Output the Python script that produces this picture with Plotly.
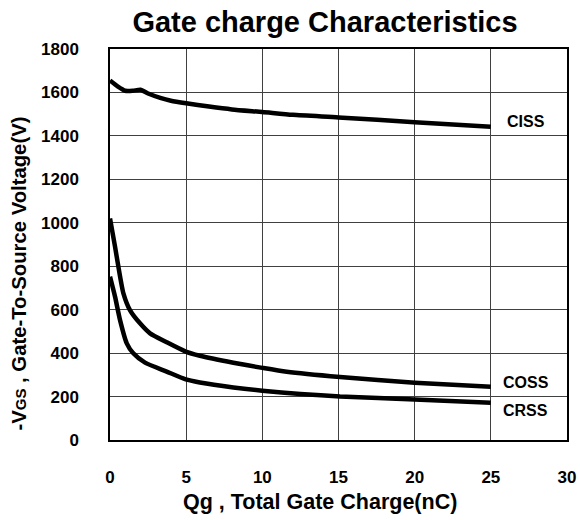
import plotly.graph_objects as go

ciss_x = [0, 0.5, 1, 1.5, 2, 2.5, 3.3, 4, 5, 6.5, 8, 10, 12, 15, 20, 25]
ciss_y = [1655, 1628, 1608, 1608, 1612, 1595, 1575, 1562, 1550, 1535, 1522, 1510, 1497, 1485, 1463, 1442]

coss_x = [0, 0.33, 0.55, 0.88, 1.31, 1.97, 2.63, 3.72, 4.97, 5.9, 8.1, 10, 11.6, 15.1, 20, 25]
coss_y = [1020, 890, 798, 675, 598, 537, 491, 450, 407, 388, 356, 332, 314, 290, 264, 245]

crss_x = [0, 0.33, 0.66, 1.1, 1.53, 2.3, 3.72, 4.97, 5.9, 8.1, 10, 12.5, 15.1, 20, 25]
crss_y = [752, 660, 552, 445, 399, 356, 315, 279, 265, 242, 227, 212, 200, 187, 172]

labels = ["CISS", "COSS", "CRSS"]
label_x = [27.3, 27.3, 27.3]
label_y = [1465, 266, 137]

x_ticks = [0, 5, 10, 15, 20, 25, 30]
y_ticks = [0, 200, 400, 600, 800, 1000, 1200, 1400, 1600, 1800]

x_title = "<b>Qg , Total Gate Charge(nC)</b>"
y_title = "<b>-V<span style='font-size:15px'>GS</span> , Gate-To-Source Voltage(V)</b>"

FONT = "Liberation Sans, Arial, sans-serif"

fig = go.Figure()
for xs, ys in [(ciss_x, ciss_y), (coss_x, coss_y), (crss_x, crss_y)]:
    fig.add_trace(go.Scatter(x=xs, y=ys, mode="lines",
                             line=dict(color="black", width=4.5, shape="spline", smoothing=0.6),
                             showlegend=False, hoverinfo="skip"))

for t, lx, ly in zip(labels, label_x, label_y):
    fig.add_annotation(x=lx, y=ly, text="<b>" + t + "</b>", showarrow=False,
                       font=dict(family=FONT, size=16, color="black"),
                       xanchor="center", yanchor="middle")

# axis titles placed as annotations (off-centre like the reference)
fig.add_annotation(x=(319.5 - 110) / 457, y=(440 - 502) / 391, xref="paper", yref="paper",
                   text=x_title, showarrow=False, xanchor="center", yanchor="middle",
                   font=dict(family=FONT, size=21.5, color="black"))
fig.add_annotation(x=(18.5 - 110) / 457, y=(440 - 274) / 391, xref="paper", yref="paper",
                   text=y_title, showarrow=False, textangle=-90, xanchor="center", yanchor="middle",
                   font=dict(family=FONT, size=20.3, color="black"))

fig.update_layout(
    width=580, height=520,
    margin=dict(l=110, r=13, t=49, b=80, autoexpand=False),
    paper_bgcolor="white", plot_bgcolor="white",
    font=dict(family=FONT, color="black"),
    title=dict(text="<b>Gate charge Characteristics</b>", x=325 / 580, xanchor="center",
               y=1 - 22 / 520, yanchor="middle", font=dict(size=29, family=FONT, color="black")),
)
fig.update_xaxes(range=[0, 30], tickvals=x_ticks, ticktext=["<b>%d</b>" % v for v in x_ticks],
                 tickfont=dict(size=17, family=FONT, color="black"),
                 showgrid=True, gridcolor="#404040", gridwidth=1,
                 showline=True, linecolor="black", linewidth=1.5, mirror=True,
                 ticks="", ticklabelstandoff=21, zeroline=False, automargin=False)
fig.update_yaxes(range=[0, 1800], tickvals=y_ticks, ticktext=["<b>%d</b>" % v for v in y_ticks],
                 tickfont=dict(size=17, family=FONT, color="black"),
                 showgrid=True, gridcolor="#404040", gridwidth=1,
                 showline=True, linecolor="black", linewidth=1.5, mirror=True,
                 ticks="", ticklabelstandoff=26, zeroline=False, automargin=False)

fig.write_html("out.html")
